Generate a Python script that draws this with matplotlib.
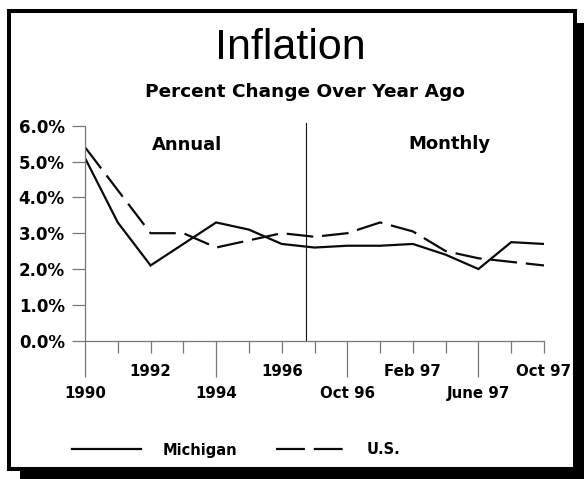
import matplotlib
matplotlib.use("Agg")
import matplotlib.pyplot as plt
from matplotlib.patches import Rectangle
from matplotlib.lines import Line2D

# annual 1990-1996, then every other month Aug 96 - Oct 97
periods = ["1990", "1991", "1992", "1993", "1994", "1995", "1996",
           "Aug 96", "Oct 96", "Dec 96", "Feb 97", "Apr 97", "June 97", "Aug 97", "Oct 97"]
michigan = [5.1, 3.3, 2.1, 2.7, 3.3, 3.1, 2.7, 2.6, 2.65, 2.65, 2.7, 2.4, 2.0, 2.75, 2.7]
us = [5.4, 4.2, 3.0, 3.0, 2.6, 2.8, 3.0, 2.9, 3.0, 3.3, 3.05, 2.5, 2.3, 2.2, 2.1]
yticks = [0, 1, 2, 3, 4, 5, 6]
lower_labels = ["1990", "1994", "Oct 96", "June 97"]
upper_labels = ["1992", "1996", "Feb 97", "Oct 97"]
divider = 6.75

W, H = 584, 479
fig = plt.figure(figsize=(W / 100, H / 100), dpi=100)

# frame with drop shadow
fig.add_artist(Rectangle((20 / W, 0), (W - 20) / W, (H - 23) / H,
                         transform=fig.transFigure, facecolor="black",
                         edgecolor="none", zorder=-3))
fig.add_artist(Rectangle((9 / W, 1 - 469 / H), (575 - 9) / W, (469 - 11) / H,
                         transform=fig.transFigure, facecolor="white",
                         edgecolor="black", lw=2.9, zorder=-2))

ax = fig.add_axes([85 / W, 1 - 340.7 / H, (544 - 85) / W, (340.7 - 125.7) / H])
ax.set_facecolor("none")

x = list(range(len(periods)))
ax.plot(x, michigan, color="#0a0a0a", lw=1.6, solid_joinstyle="miter")
ax.plot(x, us, color="#0a0a0a", lw=1.6, dashes=(12, 4))
ax.plot([divider, divider], [0, 6.08], color="#111111", lw=0.8, clip_on=False)

ax.set_xlim(0, len(periods) - 1)
ax.set_ylim(0, 6)

for s in ["top", "right"]:
    ax.spines[s].set_visible(False)
for s in ["left", "bottom"]:
    ax.spines[s].set_color("#777777")
    ax.spines[s].set_linewidth(0.9)

lbl = dict(family="DejaVu Sans", weight="bold")

ax.set_yticks(yticks)
ax.set_yticklabels(["%.1f%%" % v for v in yticks], fontsize=12, **lbl)
ax.tick_params(axis="y", direction="out", length=9.5, width=0.9,
               color="#777777", pad=5)

lower_pos = [periods.index(p) for p in lower_labels]
upper_pos = [periods.index(p) for p in upper_labels]
ax.set_xticks(lower_pos)
ax.set_xticklabels(lower_labels, fontsize=10.8, **lbl)
ax.set_xticks(x, minor=True)
ax.set_xticklabels([p if p in upper_labels else "" for p in periods],
                   minor=True, fontsize=10.8, **lbl)
ax.tick_params(axis="x", which="major", direction="out", length=26,
               width=0.9, color="#777777", pad=6.5)
ax.tick_params(axis="x", which="minor", direction="out", length=8.6,
               width=0.9, color="#777777", pad=8.5)

ax.text(3.1, 5.46, "Annual", ha="center", va="center", fontsize=13, **lbl)
ax.text(11.12, 5.5, "Monthly", ha="center", va="center", fontsize=13, **lbl)

fig.text(290 / W, 1 - 48 / H, "Inflation", ha="center", va="center",
         family="Liberation Sans", fontsize=31)
fig.text(305 / W, 1 - 92 / H, "Percent Change Over Year Ago", ha="center",
         va="center", fontsize=13.3, **lbl)

handles = [Line2D([], [], color="#0a0a0a", lw=1.6),
           Line2D([], [], color="#0a0a0a", lw=1.6, dashes=(13, 4))]
fig.legend(handles, ["Michigan", "U.S."], loc="center left",
           bbox_to_anchor=(72 / W, 1 - 450 / H), ncol=2, frameon=False,
           borderpad=0, borderaxespad=0, handlelength=4.7, handletextpad=1.5,
           columnspacing=2.7, prop=dict(family="DejaVu Sans", weight="bold", size=10.5))

fig.savefig("out.png", dpi=100)
